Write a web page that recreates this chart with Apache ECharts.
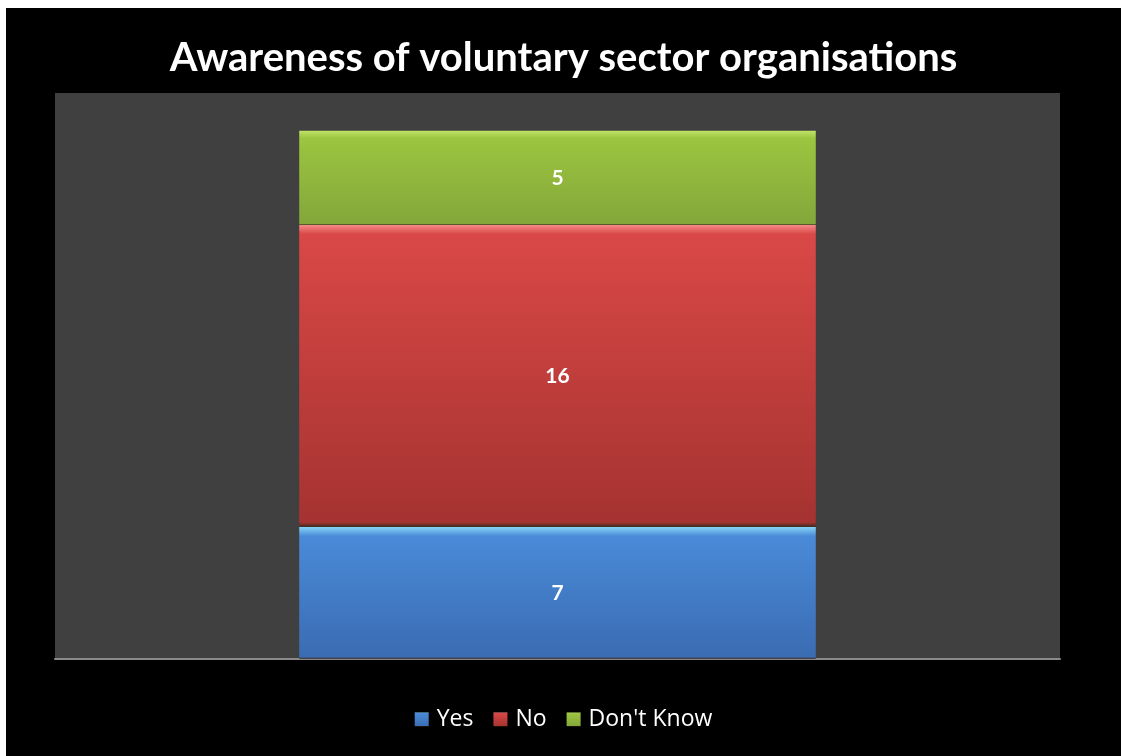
<!DOCTYPE html>
<html>
<head>
<meta charset="utf-8">
<script src="https://cdn.jsdelivr.net/npm/echarts@6/dist/echarts.min.js"></script>
<style>
  html, body { margin: 0; padding: 0; background: #ffffff; }
  #chart { position: absolute; left: 6px; top: 8px; width: 1115px; height: 748px; background: #000000; }
</style>
</head>
<body>
<div id="chart"></div>
<script>
// Survey responses, stacked in a single column
const categories = [''];
const seriesNames = ['Yes', 'No', "Don't Know"];
const yesValues = [7];
const noValues = [16];
const dontKnowValues = [5];

// Bevelled look: bright top edge, then main tone fading darker downward
function bevel(top, main, bottom, edge) {
  return new echarts.graphic.LinearGradient(0, 0, 0, 1, [
    { offset: 0, color: top },
    { offset: edge, color: main },
    { offset: 0.985, color: bottom },
    { offset: 1, color: 'rgba(60,40,30,0.9)' }
  ]);
}

const styles = [
  { color: bevel('#86d4f8', '#4a8ad8', '#3a6cb2', 0.07), legend: '#3d78c8' },
  { color: bevel('#f58a88', '#d94846', '#a53331', 0.03), legend: '#c8403e' },
  { color: bevel('#c2e468', '#9cc540', '#84a73a', 0.08), legend: '#8fb53c' }
];

const valueSets = [yesValues, noValues, dontKnowValues];

const chart = echarts.init(document.getElementById('chart'));
chart.setOption({
  backgroundColor: '#000000',
  animation: false,
  title: {
    text: 'Awareness of voluntary sector organisations',
    left: 'center',
    top: 25,
    textStyle: { color: '#ffffff', fontFamily: 'Lato', fontWeight: 'bold', fontSize: 40 }
  },
  legend: {
    data: seriesNames,
    bottom: 20,
    left: 'center',
    itemWidth: 14,
    itemHeight: 14,
    itemGap: 20,
    icon: 'rect',
    textStyle: { color: '#ffffff', fontFamily: 'Open Sans', fontSize: 23, padding: [0, 0, 0, 3] }
  },
  grid: { left: 49, right: 61, top: 85, bottom: 97, backgroundColor: '#404040', show: true, borderWidth: 0 },
  xAxis: {
    type: 'category',
    data: categories,
    axisLine: { lineStyle: { color: '#8a8a8a', width: 2 } },
    axisTick: { show: false },
    axisLabel: { show: false }
  },
  yAxis: {
    type: 'value',
    min: 0,
    max: 30,
    show: false,
    splitLine: { show: false }
  },
  series: seriesNames.map((name, i) => ({
    name: name,
    type: 'bar',
    stack: 'total',
    barWidth: '51.4%',
    data: valueSets[i],
    itemStyle: { color: styles[i].color },
    label: {
      show: true,
      position: 'inside',
      color: '#ffffff',
      fontFamily: 'Lato',
      fontWeight: 'bold',
      fontSize: 21
    }
  })),
  color: styles.map(s => s.legend)
});
</script>
</body>
</html>
